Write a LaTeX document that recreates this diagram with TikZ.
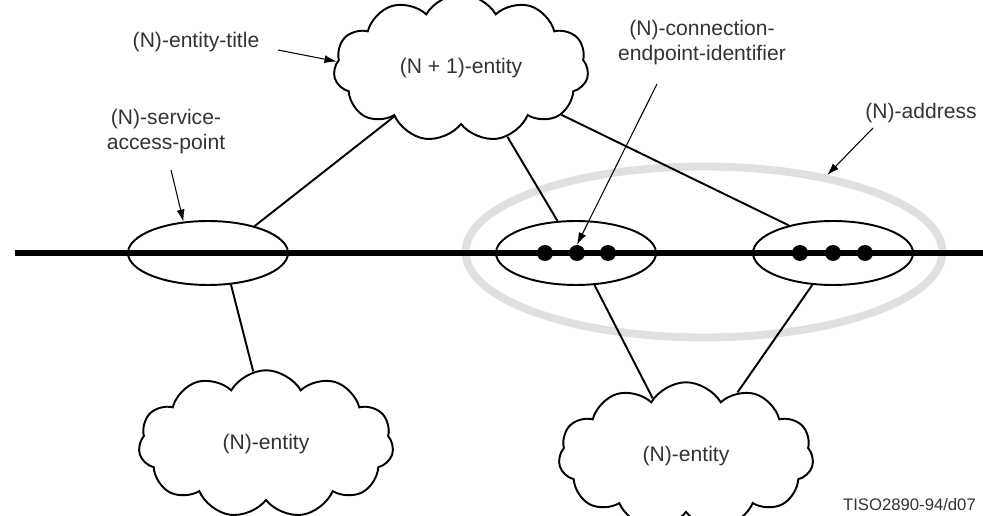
\documentclass[tikz,border=0pt]{standalone}
\usepackage{fontspec}
\setmainfont{Liberation Sans}
\usetikzlibrary{shapes.symbols,shapes.geometric,arrows.meta}

\begin{document}
\begin{tikzpicture}[x=0.02cm,y=-0.02cm,
  every node/.style={font=\fontsize{12}{14.2}\selectfont, text=black!80},
  entity/.style={cloud, draw, line width=1.1pt, cloud puffs=11, cloud puff arc=120, cloud ignores aspect, minimum width=5.1cm, minimum height=2.95cm, inner sep=0pt},
  sap/.style={ellipse, draw, line width=1.1pt, minimum width=3.2cm, minimum height=1.28cm, inner sep=0pt},
  cep/.style={circle, fill=black, minimum size=0.32cm, inner sep=0pt},
  link/.style={line width=1.1pt},
  pointer/.style={line width=0.6pt, -{Latex[length=2.4mm,width=1.6mm]}}]

	\useasboundingbox (0,0) rectangle (983,516);

	\node[ellipse, draw=black!12, line width=4.5pt, minimum width=9.54cm, minimum height=3.42cm, inner sep=0pt] (addr) at (704,252) {};

	\node[entity] (upper) at (461,68) {(N + 1)-entity};
	\node[entity] (lentity) at (266,444) {(N)-entity};
	\node[entity] (rentity) at (686,456) {(N)-entity};

	\node[sap] (lsap) at (208,253) {};
	\node[sap] (msap) at (576,253) {};
	\node[sap] (rsap) at (833,253) {};

	\coordinate (lineL) at (15,253);
	\coordinate (lineR) at (990,253);
	\draw[line width=3pt] (lineL) -- (lineR);

	\foreach \x [count=\i] in {545,577,608,800,833,865}
		\node[cep] (d\i) at (\x,253) {};

	\draw[link] (upper.216) -- (lsap.30);
	\draw[link] (upper.-56) -- (msap.120);
	\draw[link] (upper.-25) -- (rsap.148);
	\draw[link] (lsap.-54) -- (lentity.100);
	\draw[link] (msap.-60) -- (rentity.120);
	\draw[link] (rsap.-123) -- (rentity.51);

	\node (titlelbl) at (196,42) {(N)-entity-title};
	\node[align=center] (saplbl) at (166,132) {(N)-service-\\access-point};
	\node[align=center] (ceplbl) at (702,43) {(N)-connection-\\endpoint-identifier};
	\node (addrlbl) at (921,113) {(N)-address};
	\node[font=\fontsize{9.5}{11}\selectfont, anchor=east] (figid) at (982,505) {TISO2890-94/d07};

	\coordinate (titletail) at (278,50);
	\coordinate (saptail) at (171,170);
	\coordinate (ceptail) at (657,84);
	\coordinate (addrtail) at (873,128);
	\draw[pointer] (titletail) -- (upper.177);
	\draw[pointer] (saptail) -- (lsap.128);
	\draw[pointer] (ceptail) -- (d2.north);
	\draw[pointer] (addrtail) -- (addr.32);
\end{tikzpicture}
\end{document}
